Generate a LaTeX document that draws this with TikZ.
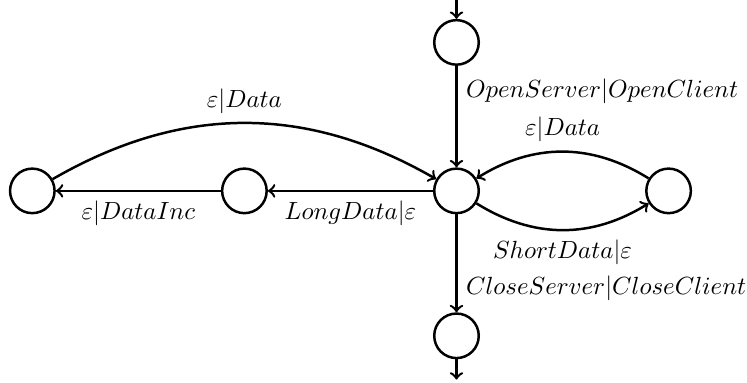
\documentclass[tikz,border=0pt]{standalone}
\usepackage{amsmath,amssymb}
\usepackage{tikz}
\tikzstyle{State}=[circle,draw,line width=1pt,minimum size=6.3mm,inner sep=0pt]
\tikzstyle{Edge}=[draw,line width=1pt,->]

\begin{document}
\begin{tikzpicture}
        \useasboundingbox(-6.457,-2.716)rectangle(4.109,2.70);
        \node[State](open)at(0,2.1){};
        \node[State](wait)at(0,0){};
        \node[State](close)at(0,-2.05){};
        \node[State](long)at(-3,0){};
        \node[State](inc)at(-6,0){};
        \node[State](short)at(3,0){};
        \coordinate(start)at(0,2.72);
        \coordinate(stop)at(0,-2.67);
        \draw[Edge](start)--(open);
        \draw[Edge](open)--node[near start,right]{$OpenServer|OpenClient$}(wait);
        \draw[Edge](wait)--node[near end,right]{$CloseServer|CloseClient$}(close);
        \draw[Edge](close)--(stop);
        \draw[Edge](wait)--node[below]{$LongData|\varepsilon$}(long);
        \draw[Edge](long)--node[below]{$\varepsilon|DataInc$}(inc);
        \draw[Edge](inc)to[bend left=30]node[above]{$\varepsilon|Data$}(wait);
        \draw[Edge](wait)to[bend right=32]node[below]{$ShortData|\varepsilon$}(short);
        \draw[Edge](short)to[bend right=32]node[above]{$\varepsilon|Data$}(wait);
    \end{tikzpicture}
\end{document}
